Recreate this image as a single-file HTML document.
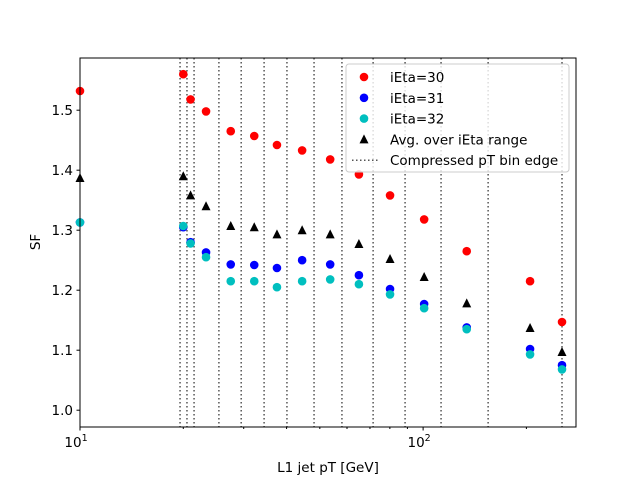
<!DOCTYPE html>
<html><head><meta charset="utf-8"><style>
body{margin:0;background:#fff;}
svg{font-family:"DejaVu Sans","Liberation Sans",sans-serif;}
</style></head><body>
<svg id="chart" width="640" height="480" viewBox="0 0 640 480">
<rect width="640" height="480" fill="#fff"/>
<g id="plot"></g>
</svg>
<script>
const xCats=[10,20,21,23.3,27.5,32.2,37.5,44.4,53.6,65,80.1,100.7,134,205,254];
const red=[1.532,1.56,1.518,1.498,1.465,1.457,1.442,1.433,1.418,1.393,1.358,1.318,1.265,1.215,1.147];
const blue=[1.313,1.305,1.28,1.263,1.243,1.242,1.237,1.25,1.243,1.225,1.202,1.177,1.138,1.102,1.075];
const cyan=[1.313,1.307,1.278,1.255,1.215,1.215,1.205,1.215,1.218,1.21,1.193,1.17,1.135,1.093,1.068];
const avg=[1.387,1.39,1.358,1.34,1.307,1.305,1.293,1.30,1.293,1.277,1.252,1.222,1.178,1.137,1.097];
const binEdges=[19.57,20.5,21.5,25.4,29.5,34.4,40.1,48.1,58.0,71.5,88.6,112.8,154.7,254];
const yTicks=[1.0,1.1,1.2,1.3,1.4,1.5];

const L=80,R=576,T=58,B=427;
const xmin=10,xmax=279,ymin=0.972,ymax=1.587;
const X=v=>L+(Math.log10(v)-Math.log10(xmin))/(Math.log10(xmax)-Math.log10(xmin))*(R-L);
const Y=v=>B-(v-ymin)/(ymax-ymin)*(B-T);
const NS='http://www.w3.org/2000/svg';
const g=document.getElementById('plot');
function mk(tag,attrs,parent){const e=document.createElementNS(NS,tag);for(const k in attrs)e.setAttribute(k,attrs[k]);(parent||g).appendChild(e);return e;}
function txt(s,attrs){const e=mk('text',attrs);e.textContent=s;return e;}
const FS=13.5;

binEdges.forEach(v=>{
const l=mk('line',{x1:X(v),x2:X(v),y1:T,y2:B,stroke:'#555','stroke-width':1.5,'stroke-dasharray':'1.5,2.5'});


});
function circles(arr,color,name){arr.forEach((v,i)=>{
const c=mk('circle',{cx:X(xCats[i]),cy:Y(v),r:4.3,fill:color});


});}
circles(red,'#ff0000','point-ieta30');
circles(blue,'#0000ff','point-ieta31');
circles(cyan,'#00bfbf','point-ieta32');
avg.forEach((v,i)=>{const x=X(xCats[i]),y=Y(v);
const p=mk('polygon',{points:`${x},${y-5} ${x-4.5},${y+4} ${x+4.5},${y+4}`,fill:'#000'});


});
const fr=mk('rect',{x:L,y:T,width:R-L,height:B-T,fill:'none',stroke:'#000','stroke-width':1});


yTicks.forEach(v=>{const y=Y(v);
mk('line',{x1:L-3.5,x2:L,y1:y,y2:y,stroke:'#000'});
const t=txt(v.toFixed(1),{x:L-7,y:y+5,'text-anchor':'end','font-size':FS,fill:'#000'});


});
[10,100].forEach((v,i)=>{const x=X(v);
mk('line',{x1:x,x2:x,y1:B,y2:B+3.5,stroke:'#000'});
const t=mk('text',{x:x-4,y:B+20,'text-anchor':'middle','font-size':FS,fill:'#000'});
t.innerHTML=`10<tspan dy="-6" font-size="9.5">${i+1}</tspan>`;


});
[20,30,40,50,60,70,80,90,200].forEach(v=>{const x=X(v);mk('line',{x1:x,x2:x,y1:B,y2:B+2,stroke:'#000'});});
const xl=txt('L1 jet pT [GeV]',{x:328,y:472,'text-anchor':'middle','font-size':FS});


const yl=txt('SF',{x:0,y:0,'text-anchor':'middle','font-size':FS,transform:'translate(40,242) rotate(-90)'});


const lg=mk('g',{});


mk('rect',{x:346,y:64,width:223,height:108,rx:3,fill:'#fff','fill-opacity':0.8,stroke:'#ccc'},lg);
const entries=[['iEta=30','#ff0000','c'],['iEta=31','#0000ff','c'],['iEta=32','#00bfbf','c'],['Avg. over iEta range','#000','t'],['Compressed pT bin edge','#555','l']];
entries.forEach((e,i)=>{const y=77+i*20.8;
if(e[2]=='c')mk('circle',{cx:364,cy:y,r:4.3,fill:e[1]},lg);
else if(e[2]=='t')mk('polygon',{points:`364,${y-5} 359.5,${y+4} 368.5,${y+4}`,fill:'#000'},lg);
else mk('line',{x1:352,x2:380,y1:y,y2:y,stroke:'#555','stroke-width':1.5,'stroke-dasharray':'1.5,2.5'},lg);
const t=mk('text',{x:390,y:y+5,'font-size':FS},lg);t.textContent=e[0];


});
</script>
</body></html>
